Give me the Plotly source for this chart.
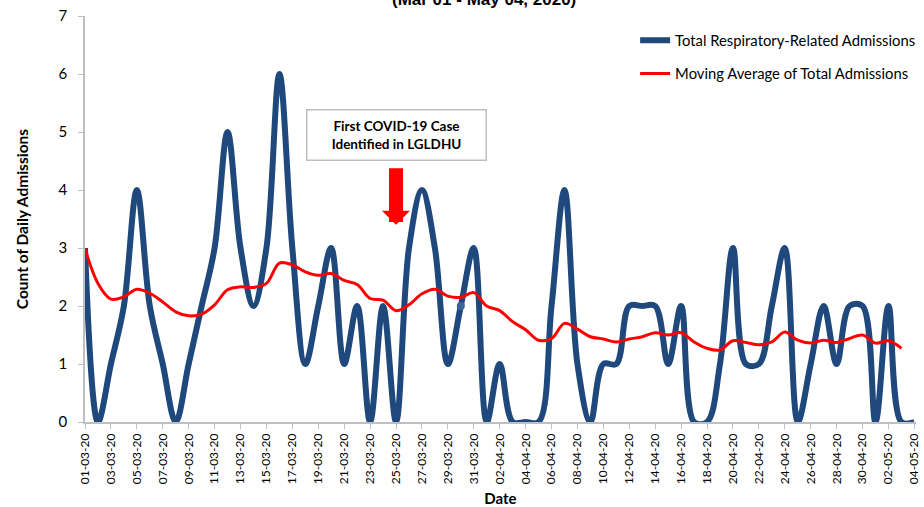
import pandas as pd
import plotly.graph_objects as go

# ── Data ───────────────────────────────────────────────────────
dates = pd.date_range("2020-03-01", "2020-05-04", freq="D")

admissions = [3, 0, 1, 2, 4, 2, 1, 0, 1, 2,
              3, 5, 3, 2, 3, 6, 3, 1, 2, 3,
              1, 2, 0, 2, 0, 3, 4, 3, 1, 2,
              3, 0, 1, 0, 0, 0, 2, 4, 1, 0,
              1, 1, 2, 2, 2, 1, 2, 0, 0, 1,
              3, 1, 1, 2, 3, 0, 1, 2, 1, 2,
              2, 0, 2, 0, 0]

moving_avg = [2.99, 2.39, 2.12, 2.16, 2.29, 2.22, 2.07, 1.90, 1.83, 1.86,
              2.02, 2.28, 2.33, 2.32, 2.39, 2.74, 2.71, 2.59, 2.53, 2.56,
              2.44, 2.37, 2.13, 2.10, 1.92, 2.02, 2.21, 2.29, 2.17, 2.15,
              2.23, 2.00, 1.92, 1.73, 1.59, 1.41, 1.44, 1.70, 1.60, 1.47,
              1.43, 1.38, 1.43, 1.47, 1.54, 1.50, 1.54, 1.38, 1.27, 1.24,
              1.40, 1.37, 1.33, 1.38, 1.55, 1.41, 1.36, 1.41, 1.37, 1.44,
              1.50, 1.36, 1.40, 1.27]

marked_day = 29   # the single visible marker on the blue line
first_case_day = 24
arrow_tip = 3.4
box_level = 4.94

BLUE = '#1f497d'
RED = '#ff0000'
GREY = '#bfbfbf'
FONT = 'Lato'

fig = go.Figure()

fig.add_trace(go.Scatter(
    x=dates, y=admissions,
    name='Total Respiratory-Related Admissions',
    mode='lines',
    line=dict(color=BLUE, width=6, shape='spline', smoothing=1.0),
    legendgroup='a'
))

fig.add_trace(go.Scatter(
    x=dates[:len(moving_avg)], y=moving_avg,
    name='Moving Average of Total Admissions',
    mode='lines',
    line=dict(color=RED, width=3, shape='spline', smoothing=1.0),
    legendgroup='b'
))

fig.add_trace(go.Scatter(
    x=[dates[marked_day]], y=[admissions[marked_day]],
    mode='markers',
    marker=dict(color='#3a659a', size=8),
    showlegend=False, hoverinfo='skip'
))

# ── Annotations ───────────────────────────────────────────────
fig.add_annotation(
    text='<b>(Mar 01 - May 04, 2020)</b>',
    xref='paper', yref='paper', x=0.48, y=1.012,
    xanchor='center', yanchor='bottom', showarrow=False,
    font=dict(family='Liberation Sans', size=17, color='black'))

fig.add_annotation(
    text='<b>First COVID-19 Case<br>Identified in LGLDHU</b>',
    x=dates[first_case_day], y=box_level, showarrow=False,
    width=176, height=47, borderpad=1,
    bgcolor='white', bordercolor=GREY, borderwidth=1.5,
    font=dict(family=FONT, size=13.5, color='black'))

fig.add_annotation(
    text='', x=dates[first_case_day], y=arrow_tip,
    showarrow=True, ax=0, ay=-58,
    arrowcolor=RED, arrowwidth=14, arrowhead=1, arrowsize=0.333)

# ── Layout ─────────────────────────────────────────────────────
fig.update_layout(
    width=924, height=507,
    margin=dict(l=85, r=4, t=16, b=85),
    plot_bgcolor='white', paper_bgcolor='white',
    font=dict(family=FONT, color='black'),
    showlegend=True,
    legend=dict(x=0.662, y=0.98, xanchor='left', yanchor='top',
                font=dict(family=FONT, size=14.8, color='black'),
                bgcolor='rgba(0,0,0,0)', tracegroupgap=11),
)

fig.update_xaxes(
    range=[dates[0], dates[-1] + pd.Timedelta(hours=3)],
    tickformat='%d-%m-%y', dtick=2 * 86400000, tick0=dates[0],
    tickangle=-90, tickfont=dict(size=12),
    ticks='outside', ticklen=5, tickcolor=GREY,
    showline=True, linecolor=GREY, linewidth=1.5,
    showgrid=False, zeroline=False, automargin=False,
    title=dict(text='<b>Date</b>', font=dict(size=15), standoff=10))

fig.update_yaxes(
    range=[0, 7], dtick=1,
    tickfont=dict(size=15),
    ticks='outside', ticklen=5, tickcolor=GREY, ticklabelstandoff=8,
    showline=True, linecolor=GREY, linewidth=1.5,
    showgrid=False, zeroline=False, automargin=False,
    title=dict(text='<b>Count of Daily Admissions</b>', font=dict(size=15.5), standoff=26))

# page body has a default 8px margin; drop it so the figure sits at the corner
fig.write_html("out.html", config={'displayModeBar': False},
               post_script="document.body.style.margin='0';")
